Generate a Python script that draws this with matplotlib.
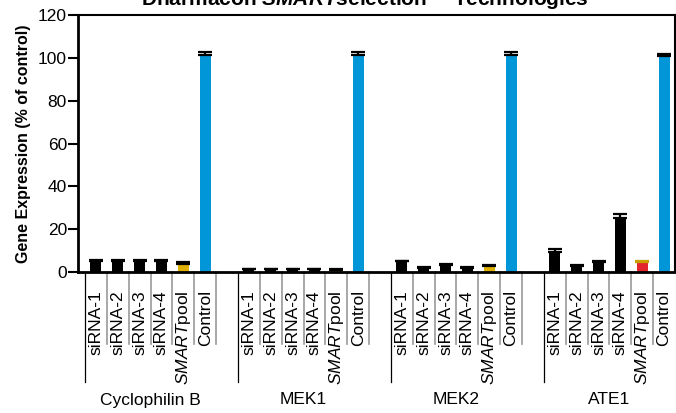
import matplotlib
matplotlib.use("Agg")
import matplotlib.pyplot as plt
import matplotlib.transforms as mtransforms
from matplotlib.lines import Line2D
import numpy as np

plt.rcParams['font.family'] = ['Liberation Sans', 'DejaVu Sans']
plt.rcParams['mathtext.fontset'] = 'custom'
plt.rcParams['mathtext.rm'] = 'Liberation Sans'
plt.rcParams['mathtext.it'] = 'Liberation Sans:italic'
plt.rcParams['mathtext.bf'] = 'Liberation Sans:bold'
plt.rcParams['mathtext.bfit'] = 'Liberation Sans:bold:italic'

# ---- data ----
genes = ["Cyclophilin B", "MEK1", "MEK2", "ATE1"]
conditions = ["siRNA-1", "siRNA-2", "siRNA-3", "siRNA-4", r"$\mathit{SMART}$pool", "Control"]

cyclophilin_b = [5.3, 5.3, 5.3, 5.3, 3.8, 101.5]
cyclophilin_b_err = [0.3, 0.3, 0.3, 0.3, 0.7, 1.0]
mek1 = [1.3, 1.2, 1.2, 1.2, 1.0, 101.5]
mek1_err = [0.2, 0.2, 0.2, 0.2, 0.2, 1.0]
mek2 = [5.0, 1.9, 3.4, 2.0, 2.8, 101.5]
mek2_err = [0.3, 0.3, 0.3, 0.3, 0.6, 1.0]
ate1 = [9.4, 3.0, 4.8, 25.2, 4.6, 101.0]
ate1_err = [1.3, 0.3, 0.4, 1.9, 0.5, 1.0]

pool_colors = ["#E0B000", "#D98E2A", "#E0B000", "#E3262B"]
control_color = "#0096D8"
sirna_color = "#000000"

values = [cyclophilin_b, mek1, mek2, ate1]
errors = [cyclophilin_b_err, mek1_err, mek2_err, ate1_err]

# ---- figure ----
W, H = 676, 413
fig = plt.figure(figsize=(W / 100, H / 100), dpi=100)
ax_left, ax_right, ax_top, ax_bottom = 78, 675, 15, 272
ax = fig.add_axes([ax_left / W, 1 - ax_bottom / H, (ax_right - ax_left) / W, (ax_bottom - ax_top) / H])

slots_per_group = 7
xticks, xlabels = [], []
for g, (vals, errs) in enumerate(zip(values, errors)):
    xs = np.arange(len(conditions)) + g * slots_per_group
    colors = [sirna_color] * 4 + [pool_colors[g], control_color]
    ax.bar(xs, vals, width=0.5, color=colors, edgecolor="none", zorder=2)
    ecol = ["black"] * 4 + ["#C8A000" if g == 3 else "black", "black"]
    for x, v, e, c in zip(xs, vals, errs, ecol):
        ax.errorbar(x, v, yerr=[[0], [e]], fmt="none", ecolor=c,
                    elinewidth=1.6, capsize=5, capthick=1.6, zorder=3)
    xticks.extend(xs)
    xlabels.extend(conditions)

ax.set_xlim(-0.82, 26.5)
ax.set_ylim(0, 120)
ax.set_yticks(np.arange(0, 121, 20))
ax.tick_params(axis="y", direction="out", length=7, width=1.5, labelsize=12.5, pad=1)
ax.set_xticks(xticks)
ax.set_xticklabels(xlabels, rotation=90, fontsize=12.5)
ax.tick_params(axis="x", length=0, pad=13)

for side in ["left", "bottom"]:
    ax.spines[side].set_linewidth(2)
for side in ["top", "right"]:
    ax.spines[side].set_linewidth(1.5)

ax.set_ylabel("Gene Expression (% of control)", fontsize=11.5, fontweight="bold", labelpad=5)

# separators below the axis: gray between conditions, black between genes
trans = mtransforms.blended_transform_factory(ax.transData, fig.transFigure)
y_axis = 1 - ax_bottom / H
y_short = 1 - 344 / H
y_long = 1 - 382 / H
for g in range(len(genes)):
    base = g * slots_per_group
    ax.add_line(Line2D([base - 0.5, base - 0.5], [y_axis, y_long], transform=trans,
                       color="black", lw=0.9, clip_on=False))
    for k in range(len(conditions)):
        xk = base + k + 0.5
        if xk >= 26.5:
            continue
        ax.add_line(Line2D([xk, xk], [y_axis, y_short], transform=trans,
                           color="#999999", lw=1.2, clip_on=False))

for g, name in enumerate(genes):
    ax.text(g * slots_per_group + 2.5, 1 - 400 / H, name, transform=trans,
            ha="center", va="center", fontsize=12.5)

fig.text(365 / W, 1 - 5 / H,
         r"Dharmacon $\mathbfit{SMART}$selection™ Technologies",
         ha="center", va="baseline", fontsize=15, fontweight="bold")

fig.savefig("out.png", dpi=100)
